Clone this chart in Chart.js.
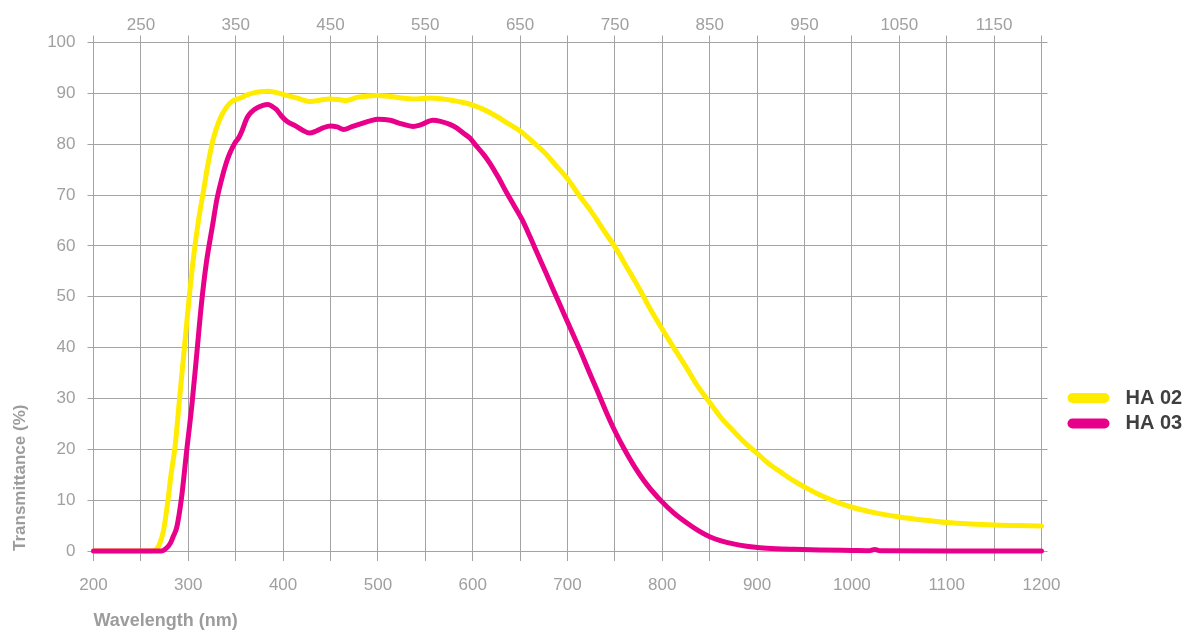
<!DOCTYPE html>
<html>
<head>
<meta charset="utf-8">
<title>HA 02 / HA 03 transmittance</title>
<script src="https://cdn.jsdelivr.net/npm/chart.js@4/dist/chart.umd.min.js"></script>
<style>
  html, body { margin: 0; padding: 0; background: #fff; }
</style>
</head>
<body>
<canvas id="transmittance" width="1189" height="632"></canvas>
<script>
// measured spectra, wavelength in nm / transmittance in %
const ha02Wavelengths = [200, 260, 266, 270, 274, 278, 282, 286, 291, 296, 301, 306, 311, 316, 321, 326, 333, 340, 346, 355, 362, 369, 376, 384, 392, 400, 414, 429, 440, 449, 458, 467, 478, 490, 499, 513, 525, 537, 556, 576, 590, 600, 612, 625, 637, 650, 662, 675, 687, 700, 712, 725, 737, 750, 762, 775, 787, 800, 812, 825, 837, 850, 862, 875, 887, 900, 912, 925, 937, 950, 962, 975, 987, 1000, 1025, 1050, 1075, 1100, 1125, 1150, 1175, 1200];
const ha02Values = [0, 0, 0.3, 1.5, 4.2, 9.2, 15.3, 20.5, 30.4, 40.2, 50, 58.5, 65.3, 70.8, 76.3, 80.8, 84.8, 87.2, 88.4, 89.1, 89.7, 90.1, 90.3, 90.4, 90.2, 89.8, 89.1, 88.4, 88.7, 88.9, 88.8, 88.6, 89.2, 89.5, 89.6, 89.4, 89.1, 88.9, 89.1, 88.7, 88.2, 87.7, 86.8, 85.5, 84.1, 82.6, 80.7, 78.5, 76.0, 73.2, 70.0, 66.8, 63.4, 59.8, 56.0, 51.8, 47.7, 43.6, 40.0, 36.2, 32.5, 29.2, 26.2, 23.6, 21.3, 19.2, 17.2, 15.5, 14.0, 12.6, 11.4, 10.3, 9.4, 8.6, 7.5, 6.7, 6.1, 5.6, 5.3, 5.1, 5.0, 4.9];

const ha03Wavelengths = [200, 272, 276, 281, 284, 288, 293, 298, 304, 309, 314, 319, 326, 330, 335, 340, 344, 349, 353, 357, 362, 367, 372, 378, 384, 388, 393, 398, 404, 414, 421, 428, 435, 442, 450, 457, 464, 472, 485, 492, 500, 513, 525, 537, 545, 558, 566, 576, 583, 590, 597, 604, 611, 618, 627, 636, 644, 652, 660, 668, 677, 685, 694, 703, 713, 722, 731, 740, 750, 760, 770, 784, 798, 812, 826, 838, 850, 862, 875, 889, 903, 920, 939, 966, 1000, 1018, 1024, 1030, 1100, 1200];
const ha03Values = [0, 0, 0.4, 1.5, 2.8, 4.8, 10.7, 19.2, 29.1, 38.9, 48.8, 56.6, 64.5, 69, 73, 76.3, 78.3, 80.2, 81.2, 82.8, 85.2, 86.4, 87.1, 87.6, 87.8, 87.5, 86.8, 85.6, 84.5, 83.5, 82.7, 82.2, 82.6, 83.2, 83.6, 83.4, 82.9, 83.4, 84.2, 84.6, 84.9, 84.7, 84.0, 83.5, 83.8, 84.7, 84.5, 83.9, 83.2, 82.2, 81.2, 79.6, 78.1, 76.3, 73.5, 70.4, 67.8, 65.2, 62, 58.6, 54.8, 51.4, 47.6, 43.8, 39.6, 35.6, 31.7, 27.7, 23.6, 20.0, 16.8, 13.0, 10, 7.5, 5.5, 4.0, 2.8, 2.0, 1.4, 0.95, 0.65, 0.45, 0.33, 0.2, 0.1, 0.05, 0.3, 0.05, 0, 0];

const bottomTickLabels = [200, 300, 400, 500, 600, 700, 800, 900, 1000, 1100, 1200];
const topTickLabels = [250, 350, 450, 550, 650, 750, 850, 950, 1050, 1150];

const seriesNames = ['HA 02', 'HA 03'];
const seriesColors = ['#ffec00', '#e9008a'];

const gridGray = '#a3a3a3';
const labelGray = '#a0a0a0';
const titleGray = '#9c9c9c';

Chart.defaults.font.family = "'Liberation Sans', Arial, Helvetica, sans-serif";

function toPoints(xs, ys) {
  return xs.map((x, i) => ({ x: x, y: ys[i] }));
}

// legend drawn to the right of the plot: rounded swatch + bold name
const sideLegend = {
  id: 'sideLegend',
  afterDraw(chart) {
    const ctx = chart.ctx;
    const left = chart.chartArea.right + 31;
    ctx.save();
    chart.data.datasets.forEach((ds, i) => {
      const y = 398 + i * 25.5;
      ctx.strokeStyle = ds.borderColor;
      ctx.lineWidth = 10;
      ctx.lineCap = 'round';
      ctx.beginPath();
      ctx.moveTo(left, y);
      ctx.lineTo(left + 32, y);
      ctx.stroke();
      ctx.fillStyle = '#3f3f3f';
      ctx.font = "bold 20px 'Liberation Sans', Arial, sans-serif";
      ctx.textBaseline = 'middle';
      ctx.textAlign = 'left';
      ctx.fillText(ds.label, left + 53, y);
    });
    ctx.restore();
  }
};

const lineStyle = {
  borderWidth: 5,
  pointRadius: 0,
  fill: false,
  clip: false,
  cubicInterpolationMode: 'monotone',
  borderCapStyle: 'round',
  borderJoinStyle: 'round'
};

new Chart(document.getElementById('transmittance'), {
  type: 'line',
  data: {
    datasets: [
      Object.assign({
        label: seriesNames[0],
        data: toPoints(ha02Wavelengths, ha02Values),
        borderColor: seriesColors[0],
        backgroundColor: seriesColors[0],
        order: 1
      }, lineStyle),
      Object.assign({
        label: seriesNames[1],
        data: toPoints(ha03Wavelengths, ha03Values),
        borderColor: seriesColors[1],
        backgroundColor: seriesColors[1],
        order: 0
      }, lineStyle)
    ]
  },
  options: {
    responsive: false,
    animation: false,
    layout: { padding: 0 },
    plugins: {
      legend: { display: false },
      tooltip: { enabled: false }
    },
    scales: {
      x: {
        type: 'linear',
        position: 'bottom',
        min: 200,
        max: 1200,
        ticks: {
          stepSize: 50,
          autoSkip: false,
          maxRotation: 0,
          padding: 14,
          color: labelGray,
          font: { size: 17 },
          callback: v => bottomTickLabels.includes(v) ? String(v) : ''
        },
        grid: { color: gridGray, lineWidth: 1, tickLength: 10 },
        border: { color: gridGray },
        title: {
          display: true,
          text: 'Wavelength (nm)',
          align: 'start',
          color: titleGray,
          font: { size: 18, weight: 'bold' },
          padding: { top: 0, bottom: 0 }
        },
        afterFit: s => { s.height = 81; }
      },
      x2: {
        type: 'linear',
        position: 'top',
        min: 200,
        max: 1200,
        ticks: {
          stepSize: 50,
          autoSkip: false,
          maxRotation: 0,
          padding: 0,
          color: labelGray,
          font: { size: 17 },
          callback: v => topTickLabels.includes(v) ? String(v) : ''
        },
        grid: { color: gridGray, lineWidth: 1, tickLength: 7, drawOnChartArea: false },
        border: { color: gridGray },
        afterFit: s => { s.height = 42.5; }
      },
      y: {
        type: 'linear',
        position: 'left',
        min: 0,
        max: 100,
        ticks: {
          stepSize: 10,
          padding: 12,
          color: labelGray,
          font: { size: 17 }
        },
        grid: { color: gridGray, lineWidth: 1, tickLength: 6 },
        border: { color: gridGray },
        title: {
          display: true,
          text: 'Transmittance (%)',
          align: 'start',
          color: titleGray,
          font: { size: 17, weight: 'bold' },
          padding: { top: 10, bottom: 0 }
        },
        afterFit: s => { s.width = 93.5; }
      },
      y2: {
        type: 'linear',
        position: 'right',
        min: 0,
        max: 100,
        ticks: { stepSize: 10, display: false },
        grid: { color: gridGray, lineWidth: 1, tickLength: 6, drawOnChartArea: false },
        border: { color: gridGray },
        afterFit: s => { s.width = 147.5; }
      }
    }
  },
  plugins: [sideLegend]
});
</script>
</body>
</html>
